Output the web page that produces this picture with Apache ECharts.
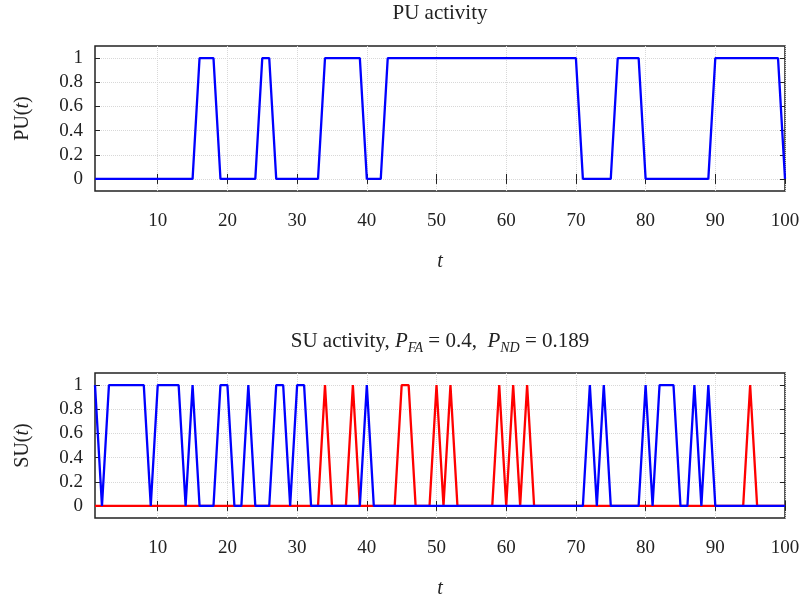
<!DOCTYPE html>
<html>
<head>
<meta charset="utf-8">
<script src="https://cdn.jsdelivr.net/npm/echarts@6/dist/echarts.min.js"></script>
<style>
  html, body { margin: 0; padding: 0; background: #fff; }
  #main { width: 804px; height: 600px; }
</style>
</head>
<body>
<div id="main"></div>
<script>
// PU state per time slot t = 1..100
const puActivity = [
  0, 0, 0, 0, 0, 0, 0, 0, 0, 0,
  0, 0, 0, 0, 0, 1, 1, 1, 0, 0,
  0, 0, 0, 0, 1, 1, 0, 0, 0, 0,
  0, 0, 0, 1, 1, 1, 1, 1, 1, 0,
  0, 0, 1, 1, 1, 1, 1, 1, 1, 1,
  1, 1, 1, 1, 1, 1, 1, 1, 1, 1,
  1, 1, 1, 1, 1, 1, 1, 1, 1, 1,
  0, 0, 0, 0, 0, 1, 1, 1, 1, 0,
  0, 0, 0, 0, 0, 0, 0, 0, 0, 1,
  1, 1, 1, 1, 1, 1, 1, 1, 1, 0,
]

// SU transmissions while PU is idle (blue)
const suIdle = [
  1, 0, 1, 1, 1, 1, 1, 1, 0, 1,
  1, 1, 1, 0, 1, 0, 0, 0, 1, 1,
  0, 0, 1, 0, 0, 0, 1, 1, 0, 1,
  1, 0, 0, 0, 0, 0, 0, 0, 0, 1,
  0, 0, 0, 0, 0, 0, 0, 0, 0, 0,
  0, 0, 0, 0, 0, 0, 0, 0, 0, 0,
  0, 0, 0, 0, 0, 0, 0, 0, 0, 0,
  0, 1, 0, 1, 0, 0, 0, 0, 0, 1,
  0, 1, 1, 1, 0, 0, 1, 0, 1, 0,
  0, 0, 0, 0, 0, 0, 0, 0, 0, 0,
]

// SU transmissions while PU is busy (red, collisions)
const suBusy = [
  0, 0, 0, 0, 0, 0, 0, 0, 0, 0,
  0, 0, 0, 0, 0, 0, 0, 0, 0, 0,
  0, 0, 0, 0, 0, 0, 0, 0, 0, 0,
  0, 0, 0, 1, 0, 0, 0, 1, 0, 0,
  0, 0, 0, 0, 1, 1, 0, 0, 0, 1,
  0, 1, 0, 0, 0, 0, 0, 0, 1, 0,
  1, 0, 1, 0, 0, 0, 0, 0, 0, 0,
  0, 0, 0, 0, 0, 0, 0, 0, 0, 0,
  0, 0, 0, 0, 0, 0, 0, 0, 0, 0,
  0, 0, 0, 0, 1, 0, 0, 0, 0, 0,
]

const xTicks = [10, 20, 30, 40, 50, 60, 70, 80, 90, 100]
const yTicks = [0, 0.2, 0.4, 0.6, 0.8, 1]

const FONT = 'Liberation Serif'
const INK = '#222'

const toPairs = (arr) => arr.map((v, i) => [i + 1, v])

function xAxis(gridIndex, main) {
  return {
    type: 'value',
    gridIndex: gridIndex,
    position: main ? 'bottom' : 'top',
    min: 1,
    max: 100,
    name: main ? 't' : '',
    nameLocation: 'middle',
    nameGap: 61,
    nameTextStyle: { fontFamily: FONT, fontSize: 20, fontStyle: 'italic', color: INK },
    axisLine: { show: false },
    axisTick: { show: true, inside: true, length: 5, customValues: xTicks, lineStyle: { color: INK, width: 1 } },
    axisLabel: { show: main, customValues: xTicks, margin: 21, fontFamily: FONT, fontSize: 19, color: INK },
    splitLine: { show: main, lineStyle: { type: 'dotted', color: '#d8d8d8', width: 1 } },
  }
}

function yAxis(gridIndex, main, label) {
  return {
    type: 'value',
    gridIndex: gridIndex,
    position: main ? 'left' : 'right',
    min: -0.1,
    max: 1.1,
    name: main ? '{n|' + label + '(}{i|t}{n|)}' : '',
    nameLocation: 'middle',
    nameGap: 62,
    nameTextStyle: {
      rich: {
        n: { fontFamily: FONT, fontSize: 20, color: INK },
        i: { fontFamily: FONT, fontSize: 20, fontStyle: 'italic', color: INK },
      },
    },
    axisLine: { show: false },
    axisTick: { show: true, inside: true, length: 5, customValues: yTicks, lineStyle: { color: INK, width: 1 } },
    axisLabel: { show: main, customValues: yTicks, margin: 12, fontFamily: FONT, fontSize: 19, color: INK },
    splitLine: { show: main, lineStyle: { type: 'dotted', color: '#d8d8d8', width: 1 } },
  }
}

const chart = echarts.init(document.getElementById('main'))

const lineSeries = (name, data, color, xi, yi) => ({
  name: name,
  type: 'line',
  xAxisIndex: xi,
  yAxisIndex: yi,
  data: toPairs(data),
  showSymbol: false,
  symbol: 'none',
  lineStyle: { color: color, width: 2.3 },
  itemStyle: { color: color },
})

const gridStyle = { show: true, borderColor: INK, borderWidth: 1.5, backgroundColor: 'transparent' }

const option = {
  animation: false,
  backgroundColor: '#fff',
  grid: [
    Object.assign({ left: 95, top: 46, width: 690, height: 145 }, gridStyle),
    Object.assign({ left: 95, top: 373, width: 690, height: 145 }, gridStyle),
  ],
  xAxis: [xAxis(0, true), xAxis(0, false), xAxis(1, true), xAxis(1, false)],
  yAxis: [yAxis(0, true, 'PU'), yAxis(0, false), yAxis(1, true, 'SU'), yAxis(1, false)],
  series: [
    lineSeries('PU', puActivity, '#0000ff', 0, 0),
    lineSeries('SU busy', suBusy, '#ff0000', 2, 2),
    lineSeries('SU idle', suIdle, '#0000ff', 2, 2),
  ],
  graphic: [
    {
      type: 'text',
      x: 440,
      y: 13,
      style: {
        text: 'PU activity',
        fontFamily: FONT,
        fontSize: 21,
        fill: INK,
        align: 'center',
        verticalAlign: 'middle',
      },
    },
    {
      type: 'text',
      x: 440,
      y: 341,
      style: {
        text: '{n|SU activity, }{i|P}{s|FA}{n| = 0.4,  }{i|P}{s|ND}{n| = 0.189}',
        align: 'center',
        verticalAlign: 'middle',
        rich: {
          n: { fontFamily: FONT, fontSize: 21, fill: INK, lineHeight: 28 },
          i: { fontFamily: FONT, fontSize: 21, fontStyle: 'italic', fill: INK, lineHeight: 28 },
          s: { fontFamily: FONT, fontSize: 14, fontStyle: 'italic', fill: INK, lineHeight: 17, verticalAlign: 'bottom' },
        },
      },
    },
  ],
}

chart.setOption(option)
</script>
</body>
</html>
